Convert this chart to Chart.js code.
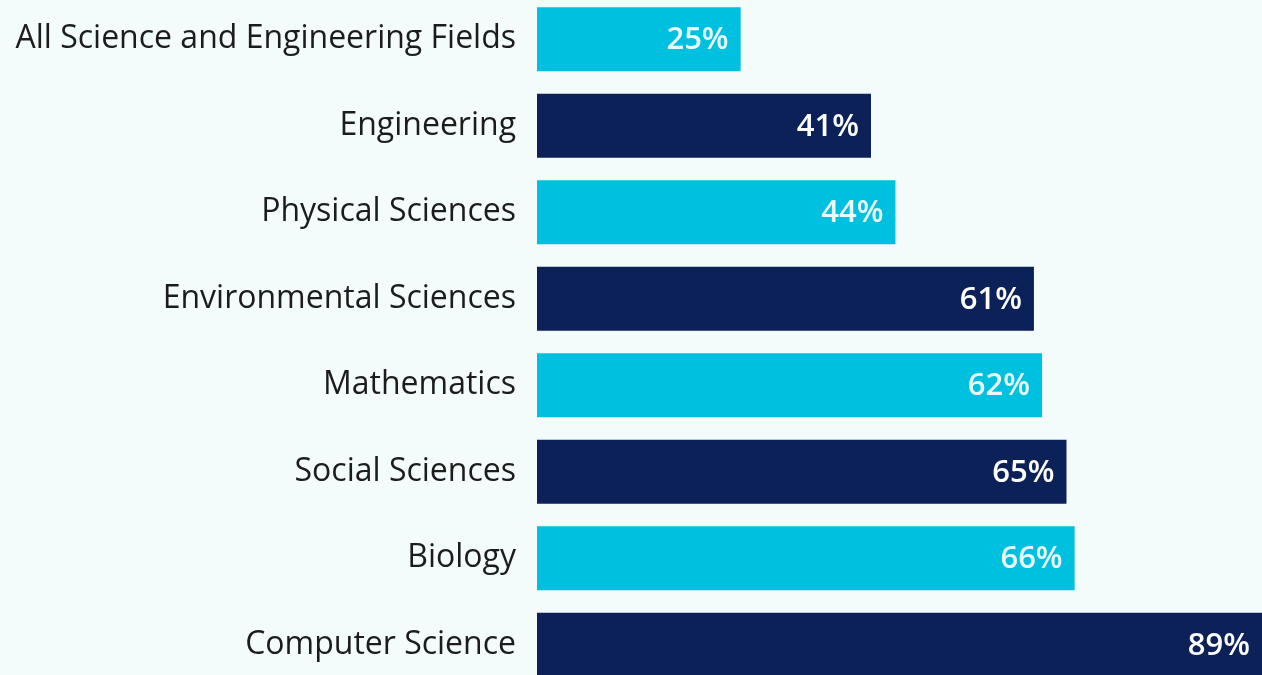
<!DOCTYPE html>
<html>
<head>
<meta charset="utf-8">
<script src="https://cdn.jsdelivr.net/npm/chart.js@4/dist/chart.umd.min.js"></script>
<style>
    html, body { margin: 0; padding: 0; background: #f3fcfb; overflow: hidden; }
    #bars { display: block; margin-top: -4px; }
</style>
</head>
<body>
<canvas id="bars" width="1262" height="692"></canvas>
<script>
// Share of degrees by field (percent)
const fields = [
    'All Science and Engineering Fields',
    'Engineering',
    'Physical Sciences',
    'Environmental Sciences',
    'Mathematics',
    'Social Sciences',
    'Biology',
    'Computer Science'
];
const shares = [25, 41, 44, 61, 62, 65, 66, 89];

const LIGHT = '#00c0df';
const DARK = '#0b2158';
const barColors = shares.map((v, i) => i % 2 === 0 ? LIGHT : DARK);

// Writes the percent inside the right end of each bar
const valueLabels = {
    id: 'valueLabels',
    afterDatasetsDraw(chart) {
        const ctx = chart.ctx;
        const meta = chart.getDatasetMeta(0);
        ctx.save();
        ctx.font = '600 31px "Open Sans", sans-serif';
        ctx.textAlign = 'right';
        ctx.textBaseline = 'middle';
        meta.data.forEach((bar, i) => {
            ctx.fillStyle = i % 2 === 0 ? '#e9fbff' : '#ffffff';
            ctx.fillText(shares[i] + '%', bar.x - 12, bar.y + 1);
        });
        ctx.restore();
    }
};

new Chart(document.getElementById('bars'), {
    type: 'bar',
    data: {
        labels: fields,
        datasets: [{
            data: shares,
            backgroundColor: barColors,
            borderWidth: 0,
            barPercentage: 0.86,
            categoryPercentage: 0.86
        }]
    },
    options: {
        indexAxis: 'y',
        responsive: false,
        animation: false,
        layout: { padding: 0 },
        plugins: {
            legend: { display: false },
            tooltip: { enabled: false }
        },
        scales: {
            x: {
                min: 0,
                max: 89,
                display: false
            },
            y: {
                grid: { display: false, drawTicks: false },
                border: { display: false },
                afterFit(scale) {
                    scale.width = 537;
                    scale.paddingTop = 0;
                    scale.paddingBottom = 0;
                },
                ticks: {
                    padding: 21,
                    color: '#1c1c1c',
                    font: { family: '"Open Sans", sans-serif', size: 32, weight: '500' }
                }
            }
        }
    },
    plugins: [valueLabels]
});
</script>
</body>
</html>
